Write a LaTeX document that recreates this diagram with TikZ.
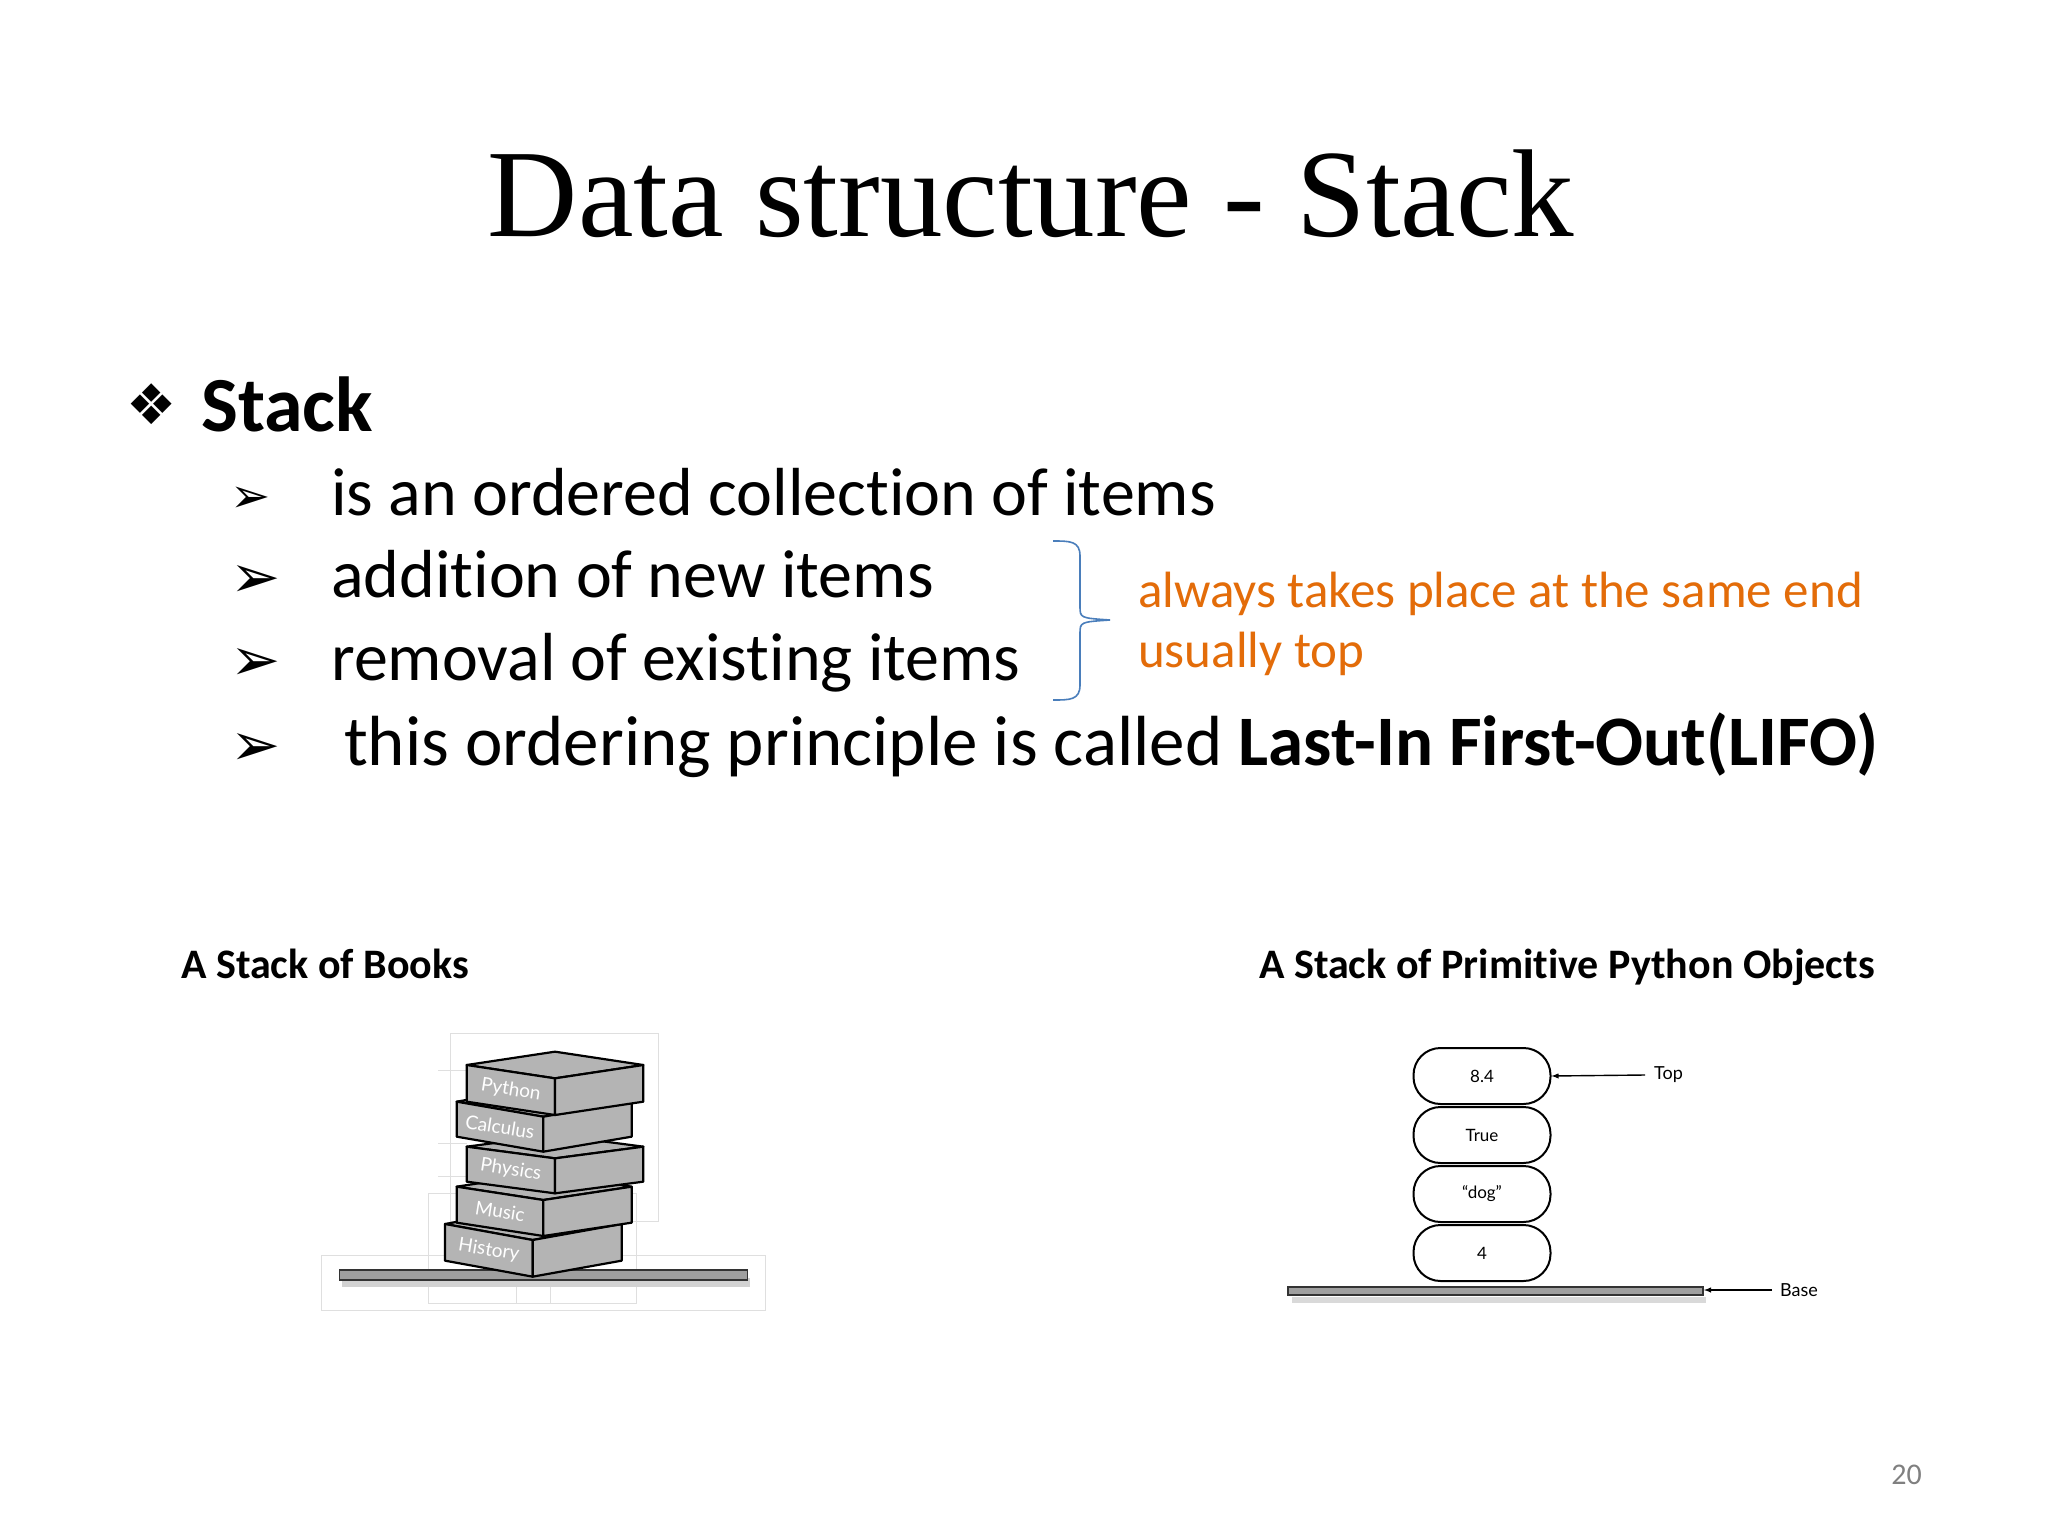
\documentclass[tikz,border=0pt]{standalone}
\usepackage{fontspec}
\setmainfont[Ligatures=NoCommon]{Carlito}
\newfontfamily\titlefont{Liberation Serif}
\newfontfamily\symfont{DejaVu Sans}
\newfontfamily\smallsans{Lato}
\definecolor{orangetxt}{HTML}{E36C09}
\definecolor{bracecol}{HTML}{4A7EBB}
\definecolor{bookgray}{HTML}{B4B4B4}
\begin{document}
\begin{tikzpicture}[x=1pt,y=-1pt,
  bookface/.style={fill=bookgray,draw=black,line width=2.2pt,line join=round},
  booklbl/.style={text=white,font=\smallsans\fontsize{19}{19}\selectfont,inner sep=0pt},
  pill/.style={draw=black,line width=2pt,rounded corners=27pt,minimum width=137pt,minimum height=56pt,inner sep=0pt,font=\smallsans\fontsize{17}{17}\selectfont},
  bar/.style={fill=gray!75,draw=black!80,line width=1.5pt},
  lbl/.style={font=\smallsans\fontsize{18}{18}\selectfont,inner sep=0pt},
  bul/.style={anchor=base west,inner sep=0pt,font=\fontsize{68}{68}\selectfont},
  arr/.style={anchor=base west,inner sep=0pt,font=\symfont\fontsize{60}{60}\selectfont}]
\useasboundingbox (0,0) rectangle (2048,1536);
\fill[white] (0,0) rectangle (2048,1536);
% title
\node[anchor=base,inner sep=0pt,font=\titlefont\fontsize{125}{125}\selectfont] (title) at (1031,236) {Data structure - Stack};
% heading
\node[anchor=base west,inner sep=0pt,font=\symfont\fontsize{56}{56}\selectfont] (dia) at (126,424) {❖};
\node[anchor=base west,inner sep=0pt,font=\bfseries\fontsize{78}{78}\selectfont] (stack) at (201,431) {Stack};
% bullets
\node[arr,font=\symfont\fontsize{48}{48}\selectfont] (a1) at (230,512) {➢};
\node[bul] (t1) at (331,515) {is an ordered collection of items};
\node[arr] (a2) at (230,597) {➢};
\node[bul] (t2) at (331,597) {addition of new items};
\node[arr] (a3) at (230,680) {➢};
\node[bul] (t3) at (331,680) {removal of existing items};
\node[arr] (a4) at (230,765) {➢};
\node[bul,font=\fontsize{71}{71}\selectfont] (t4) at (344,765) {this ordering principle is called \textbf{Last-In First-Out(LIFO)}};
% brace
\draw[bracecol,line width=1.6pt] (1053,541) .. controls (1070,541) and (1080,541) .. (1080,556) -- (1080,606) .. controls (1080,618) .. (1110,620) .. controls (1080,622) .. (1080,634) -- (1080,685) .. controls (1080,700) and (1070,700) .. (1053,700);
\coordinate (bt) at (1110,620);
\node[anchor=base west,inner sep=0pt,text=orangetxt,font=\fontsize{51}{51}\selectfont] (o1) at (1138,607) {always takes place at the same end};
\node[anchor=base west,inner sep=0pt,text=orangetxt,font=\fontsize{51}{51}\selectfont] (o2) at (1138,667) {usually top};
% captions
\node[anchor=base west,inner sep=0pt,font=\bfseries\fontsize{42}{42}\selectfont] (c1) at (181,978) {A Stack of Books};
\node[anchor=base west,inner sep=0pt,font=\bfseries\fontsize{42}{42}\selectfont] (c2) at (1259,978) {A Stack of Primitive Python Objects};
% books
\begin{scope}[shift={(310,1020)},scale=1/3]
\draw[gray!25,line width=0.8pt] (35,705) rectangle (1365,870);
\draw[gray!25,line width=0.8pt] (420,40) rectangle (1045,605);
\draw[gray!25,line width=0.8pt] (355,520) rectangle (980,850);
\draw[gray!25,line width=0.8pt] (385,150) -- (470,150) (385,370) -- (470,370) (385,470)--(470,470) (620,770)--(620,850) (720,770)--(720,850);
\fill[gray!35] (95,775) rectangle (1320,800);
\draw[bar] (88,750) rectangle (1313,780);
\foreach \L/\M/\R/\tl/\tm/\h/\name [count=\i] in
  {405/668/935/612/660/110/History, 440/700/965/500/540/108/Music, 470/735/1000/380/415/105/Physics, 440/700/965/245/290/105/Calculus, 470/735/1000/135/175/110/Python}{
  \draw[bookface] (\L,\tl) -- ({\M},{\tl-(\tm-\tl)}) -- (\R,\tl) -- (\M,\tm) -- cycle;
  \draw[bookface] (\L,\tl) -- (\M,\tm) -- (\M,\tm+\h) -- (\L,\tl+\h) -- cycle;
  \draw[bookface] (\M,\tm) -- (\R,\tl) -- (\R,\tl+\h) -- (\M,\tm+\h) -- cycle;
  \node[booklbl,rotate=-9] (bk\i) at ({(\L+\M)/2},{(\tl+\tm)/2+\h/2}) {\name};
}
\end{scope}
% python objects
\fill[gray!30] (1292,1297) rectangle (1706,1303);
\draw[bar] (1288,1287) rectangle (1703,1295);
\node[pill] (p1) at (1482,1076) {8.4};
\node[pill] (p2) at (1482,1135) {True};
\node[pill] (p3) at (1482,1194) {“dog”};
\node[pill] (p4) at (1482,1253) {4};
\node[lbl,anchor=west] (top) at (1654,1075) {Top};
\node[lbl,anchor=west] (base) at (1780,1290) {Base};
\coordinate (barR) at (1704,1290);
\draw[-latex,line width=1.4pt] ([xshift=-9pt]top.west) -- (p1.east);
\draw[-latex,line width=1.4pt] ([xshift=-8pt]base.west) -- (barR);
% page number
\node[anchor=base east,inner sep=0pt,text=gray,font=\fontsize{30}{30}\selectfont] (pg) at (1922,1484) {20};
\end{tikzpicture}
\end{document}
